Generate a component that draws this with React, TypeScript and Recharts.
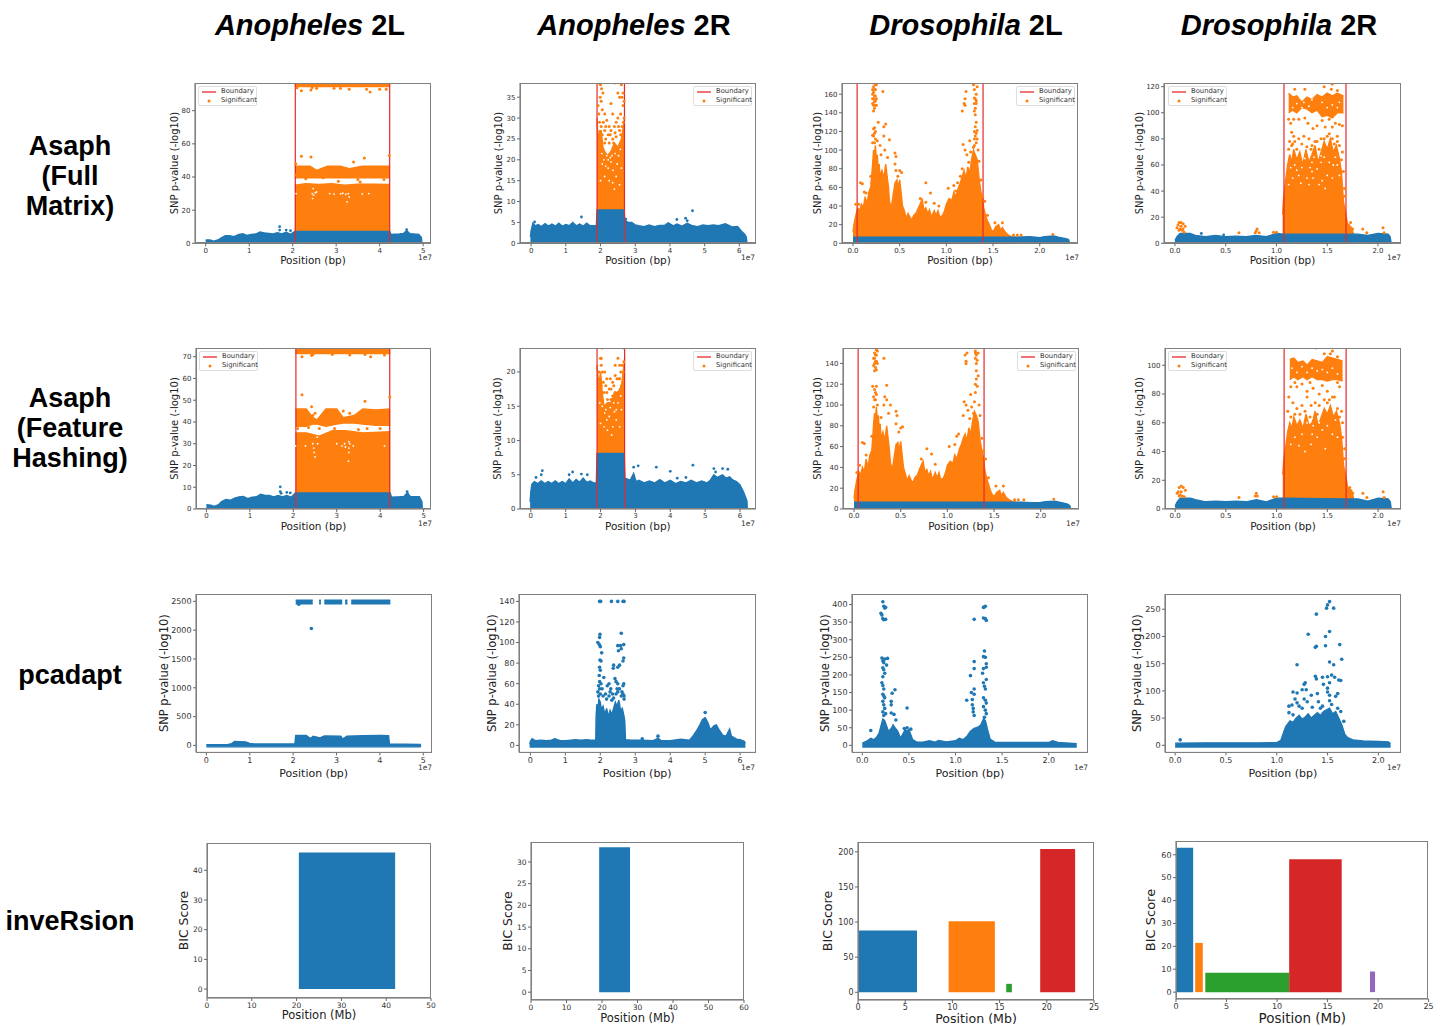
import React from 'react';
import { ComposedChart, XAxis, YAxis, Area, Scatter, ReferenceLine, ReferenceArea, Label } from 'recharts';

type P = [number, number];
const BLUE = '#1f77b4', ORANGE = '#ff7f0e', RED = '#e8272a', GREEN = '#2ca02c', CRIM = '#d62728', PURPLE = '#9467bd';

// ---------- Asaph (Full Matrix) ----------
const fullA2LBlue: P[] = [[0,2],[0.1,2],[0.18,1.3],[0.28,2],[0.35,3.2],[0.45,4.6],[0.55,4.6],[0.65,4],[0.75,5.2],[0.85,5.8],[0.95,4.8],[1.05,5.4],[1.15,5.6],[1.25,6.8],[1.35,6.3],[1.45,6],[1.55,5.6],[1.65,6.4],[1.75,5.6],[1.85,6.6],[1.95,5.4],[2.05,7.2],[4.23,7.2],[4.26,5.4],[4.45,5.6],[4.55,6],[4.62,7.6],[4.7,5.8],[4.9,5.4],[4.96,3.5],[4.97,0]];
const fullA2LOr1: P[] = [[2.05,35],[2.3,36],[2.6,35.5],[2.9,36],[3.2,35],[3.5,35.7],[3.9,35.6],[4.23,35.5]];
const fullA2LOr2: P[] = [[2.05,46.5],[2.4,46.5],[2.55,44],[2.8,46.5],[3.1,46.5],[3.3,45],[3.6,46.5],[4.23,46.5]];
const fullA2LOr3: P[] = [[2.05,97],[4.23,97]];
const fullA2LDots: P[] = [[2.2,52.5],[2.42,52],[3.4,49],[3.65,51.5],[4.22,53],[2.07,48],[2.2,92],[2.42,92.5],[3.78,91.3],[2.45,94],[2.55,93.5],[2.95,93.5],[3.3,93],[3.7,93],[4.0,93],[4.15,93],[3.1,93.6],[2.1,93.8],[2.08,41],[2.3,39],[2.7,39.5],[3.5,38.5],[4.1,38.5],[3.05,37.5],[3.55,37]];
const fullA2LHigh: P[] = [[1.7,10],[1.7,8],[1.85,8],[1.95,7.6],[4.62,8.2]];
const fullA2LGaps: P[] = [[2.08,30],[2.45,30],[2.48,29],[2.52,30.5],[2.55,31],[2.47,33],[2.85,30],[2.95,29.7],[3.1,29.8],[3.15,30.2],[3.22,29.5],[3.28,30],[3.3,28],[3.6,29.8],[3.75,30],[3.25,25],[2.46,27]];

const fullA2RBlue: P[] = [[-0.02,1.5],[0,3],[0.05,4.8],[0.12,4.2],[0.2,4.5],[0.3,4],[0.4,4.7],[0.5,4.1],[0.6,4.6],[0.7,4.1],[0.8,4.8],[0.9,4.1],[1,4.5],[1.1,4.2],[1.2,5],[1.3,4.2],[1.4,4.6],[1.5,4.1],[1.6,4.8],[1.7,4.2],[1.8,4.2],[1.88,4.2],[1.9,8],[2.68,8],[2.7,5.5],[2.8,5],[2.9,5],[3,4.4],[3.1,4.2],[3.25,4],[3.4,4.4],[3.55,4],[3.7,4.3],[3.85,4.3],[3.95,4.9],[4.1,4.2],[4.2,4.6],[4.35,4.1],[4.5,4.8],[4.65,4.2],[4.8,4],[4.95,4.4],[5.1,4.2],[5.25,4.4],[5.4,4.2],[5.6,4.7],[5.8,3.9],[5.95,4],[6.05,3],[6.15,2.2],[6.2,1.5],[6.22,0]];
const fullA2ROr: P[] = [[1.9,30],[1.93,24],[1.97,27],[2.02,27],[2.07,23],[2.12,22],[2.2,21],[2.3,22],[2.4,24],[2.5,23],[2.6,25],[2.66,28],[2.69,30]];
const fullA2RDots: P[] = [[2.0,38],[2.03,37],[2.07,36],[2.02,34],[1.93,33],[2.05,32],[2.12,31],[2.18,29.5],[1.97,29],[2.02,28],[2.3,33.5],[2.35,31],[2.42,38.4],[2.5,36],[2.55,35],[2.62,35],[2.65,33],[2.58,31],[2.5,30],[2.45,29],[2.68,30],[2.62,28],[2.55,27],[2.3,27],[2.22,26],[2.12,27],[2.05,26],[2.15,25],[2.25,24],[2.38,24],[2.45,25.5],[2.58,26],[2.42,26.5],[2.35,25],[2.12,24],[2.6,38],[1.98,38.3],[2.28,26],[2.66,29],[2.08,29],[2.15,28],[2.25,28],[2.4,28],[2.52,28],[2.65,36],[2.68,34],[1.99,35],[1.95,31]];
const fullA2RHigh: P[] = [[1.45,6.3],[4.65,7.8],[4.2,5.7],[4.45,6],[4.5,5.4],[2.73,5.8],[0.1,5.1]];
const fullA2RGaps: P[] = [[2.12,16],[2.25,15],[2.35,14.5],[2.45,16],[2.22,18],[2.4,13],[2.0,15],[2.55,14],[2.1,20],[2.3,19.5],[2.52,21],[2.15,18.5],[2.28,20.5],[2.18,21],[2.05,19],[2.36,17.5],[2.48,19],[2.6,18],[2.42,21.5],[2.22,20],[2.33,21],[2.57,22.5],[2.04,21.5]];

const fullD2LOr: P[] = [[0,12],[0.01,20],[0.03,30],[0.05,38],[0.07,35],[0.09,42],[0.11,38],[0.13,50],[0.15,42],[0.17,55],[0.19,60],[0.2,72],[0.21,85],[0.22,100],[0.23,95],[0.24,105],[0.25,90],[0.26,95],[0.27,80],[0.28,85],[0.29,72],[0.31,78],[0.33,70],[0.35,85],[0.37,68],[0.38,60],[0.39,45],[0.41,38],[0.43,52],[0.45,65],[0.47,68],[0.48,60],[0.5,68],[0.52,50],[0.53,40],[0.55,35],[0.57,27],[0.59,32],[0.61,28],[0.63,25],[0.65,30],[0.68,33],[0.7,38],[0.72,42],[0.74,48],[0.76,35],[0.78,38],[0.8,32],[0.82,36],[0.84,28],[0.87,35],[0.89,30],[0.91,35],[0.93,28],[0.96,30],[0.98,35],[1,42],[1.03,48],[1.06,46],[1.08,55],[1.1,50],[1.13,60],[1.15,65],[1.17,72],[1.19,78],[1.21,70],[1.23,82],[1.25,75],[1.27,90],[1.29,100],[1.31,95],[1.33,90],[1.35,70],[1.37,55],[1.39,48],[1.4,38],[1.42,30],[1.44,24],[1.46,20],[1.48,15],[1.5,12],[1.53,18],[1.56,20],[1.58,14],[1.6,17],[1.63,12],[1.66,9],[1.7,7],[1.75,6]];
const fullD2LBlue: P[] = [[0,6.5],[1.7,6.5],[1.8,6.8],[1.9,7],[2,6],[2.05,7],[2.15,7.8],[2.2,6.5],[2.28,5],[2.31,4],[2.32,0]];
const fullD2LDots: P[] = [[0.21,172],[0.22,168],[0.23,172],[0.24,165],[0.21,160],[0.22,155],[0.23,152],[0.24,148],[0.25,155],[0.21,150],[0.23,145],[0.22,142],[0.24,158],[0.25,170],[0.22,175],[0.32,163],[0.22,162],[0.23,165],[0.24,170],[0.21,165],[0.22,148],[0.23,158],[0.24,153],[0.25,148],[0.21,155],[0.27,130],[0.35,128],[0.33,125],[0.22,123],[0.23,118],[0.24,112],[0.21,108],[0.22,115],[0.23,108],[0.23,124],[0.24,120],[0.21,116],[0.26,110],[0.29,105],[0.33,115],[0.39,111],[0.3,95],[0.34,100],[0.37,92],[0.45,97],[0.46,93],[0.45,85],[0.46,78],[0.5,78],[0.52,76],[0.48,72],[0.08,65],[0.1,64],[0.12,55],[0.14,54],[0.19,72],[0.2,65],[0.03,42],[0.06,42],[0.78,65],[0.83,54],[0.78,44],[0.87,43],[0.92,40],[0.72,48],[1.02,59],[1.08,62],[1.1,56],[1.12,65],[1.15,72],[1.17,80],[1.18,106],[1.2,100],[1.22,95],[1.2,155],[1.19,150],[1.21,163],[1.2,148],[1.17,142],[1.24,87],[1.25,110],[1.26,98],[1.28,90],[1.29,103],[1.3,112],[1.3,120],[1.31,125],[1.32,118],[1.3,142],[1.31,138],[1.3,150],[1.31,155],[1.32,160],[1.3,165],[1.32,150],[1.31,172],[1.32,174],[1.33,168],[1.29,170],[1.32,130],[1.33,121],[1.31,145],[1.32,153],[1.3,156],[1.31,115],[1.3,105],[1.32,108],[1.33,112],[1.34,100],[1.35,88],[1.37,68],[1.39,50],[1.41,45],[1.44,30],[1.52,22],[1.6,22],[1.72,9],[1.76,9],[1.8,9]];
const fullD2LHigh: P[] = [[2.14,9.5]];

const fullD2RBlue: P[] = [[0,2],[0.02,5],[0.05,7.5],[0.15,7.5],[0.2,6],[0.3,5],[0.4,6],[0.5,5],[0.6,5.5],[0.7,5],[0.8,6],[0.9,5],[1,7.5],[1.07,7],[1.685,7],[1.8,7],[1.9,6],[2,7.5],[2.1,7],[2.12,5],[2.13,0]];
const fullD2ROr: P[] = [[1.06,22],[1.07,35],[1.09,48],[1.11,60],[1.13,68],[1.15,62],[1.17,72],[1.2,64],[1.23,70],[1.26,60],[1.29,72],[1.32,62],[1.35,68],[1.38,75],[1.41,62],[1.44,70],[1.47,78],[1.5,72],[1.53,80],[1.56,70],[1.59,75],[1.62,65],[1.64,55],[1.66,32],[1.68,24],[1.7,15],[1.74,12],[1.76,7]];
const fullD2ROrTop: P[] = [[1.12,115],[1.16,112],[1.2,113],[1.25,108],[1.3,112],[1.35,110],[1.4,114],[1.45,112],[1.5,115],[1.55,113],[1.6,115],[1.66,113]];
const fullD2RTopLow: P[] = [[1.12,100],[1.16,102],[1.2,100],[1.25,104],[1.3,103],[1.35,100],[1.4,102],[1.45,97],[1.5,98],[1.55,96],[1.6,100],[1.66,100]];
const fullD2RDots: P[] = [[0.02,12],[0.03,14],[0.04,16],[0.06,16],[0.08,15],[0.1,13],[0.05,11],[0.07,10],[0.09,8.5],[0.06,13],[0.04,10],[0.08,11],[0.63,8],[0.79,8],[0.8,9.5],[0.81,11],[0.83,8],[0.97,8.5],[1.0,8.5],[1.71,14],[1.73,16],[1.75,11],[1.85,11],[1.89,8],[2.05,12],[2.06,8],[1.18,118],[1.28,118],[1.39,123],[1.47,120],[1.55,122],[1.54,118],[1.6,117],[1.12,95],[1.14,92],[1.17,95],[1.22,95],[1.28,96],[1.31,92],[1.36,88],[1.4,90],[1.45,94],[1.48,89],[1.52,95],[1.55,89],[1.58,92],[1.62,91],[1.65,90],[1.15,85],[1.17,82],[1.13,78],[1.15,75],[1.18,78],[1.22,80],[1.27,82],[1.32,80],[1.35,75],[1.4,78],[1.44,80],[1.5,82],[1.55,80],[1.6,82],[1.62,75],[1.65,70],[1.12,72],[1.16,76],[1.2,72],[1.25,76],[1.3,74],[1.34,72],[1.38,78],[1.42,72],[1.47,80],[1.52,84],[1.57,76],[1.6,78],[1.64,64],[1.66,55],[1.67,42],[1.67,36]];
const fullD2RHigh: P[] = [[0.26,7.5],[0.48,6.5]];
const fullD2RGaps: P[] = [[1.18,60],[1.35,62],[1.35,55],[1.36,50],[1.42,45],[1.22,52],[1.3,50],[1.5,52],[1.45,48],[1.25,104],[1.27,108],[1.35,110],[1.45,108],[1.55,106],[1.2,107],[1.62,108],[1.14,58],[1.16,50],[1.2,56],[1.25,58],[1.28,65],[1.33,58],[1.37,66],[1.4,57],[1.44,62],[1.47,66],[1.52,62],[1.56,60],[1.6,60],[1.62,52],[1.12,45],[1.24,46],[1.32,45],[1.48,42],[1.55,50],[1.58,66],[1.31,70],[1.44,67],[1.16,104],[1.32,105],[1.5,104],[1.6,104]];

// ---------- Asaph (Feature Hashing) ----------
const hashA2LBlue: P[] = [[0,2],[0.1,1.8],[0.18,1.2],[0.28,2],[0.35,3.4],[0.45,4.4],[0.55,4],[0.65,5],[0.75,5.6],[0.85,5.8],[0.95,4.8],[1.05,5.4],[1.15,5.6],[1.25,6.8],[1.35,6.2],[1.45,6.2],[1.55,5.6],[1.65,6.2],[1.75,5.6],[1.85,6.2],[1.95,5.4],[2.05,7.4],[4.23,7.4],[4.26,5.4],[4.45,5.6],[4.55,5.8],[4.62,7.4],[4.7,5.6],[4.9,5.6],[4.96,3.5],[4.97,0]];
const hashA2LOr1: P[] = [[2.05,35],[2.3,35],[2.6,33.5],[2.9,36],[3.2,36],[3.6,35],[4.23,35.5]];
const hashA2LOr2: P[] = [[2.05,46],[2.3,46],[2.45,42],[2.55,41],[2.75,46],[3.0,46],[3.15,42],[3.4,43],[3.6,46],[3.9,45.5],[4.23,46]];
const hashA2LOr2Low: P[] = [[2.05,38],[2.3,38],[2.45,39],[2.55,39],[2.75,38],[3.0,39],[3.15,39.5],[3.4,39.5],[3.6,39],[3.9,38.5],[4.23,38.5]];
const hashA2LOr3: P[] = [[2.05,74],[4.23,74]];
const hashA2LOr3Low: P[] = [[2.05,71.5],[4.23,71.5]];
const hashA2LDots: P[] = [[2.2,52.5],[3.65,49.5],[2.42,47],[4.22,51.5],[2.2,70],[2.42,70.5],[2.45,71],[3.78,70],[3.65,71],[4.1,70.8],[2.9,71],[3.3,70.8],[2.95,37],[2.6,37],[2.35,37.5],[3.5,36.5],[3.7,37],[4.0,37],[2.1,37],[2.45,43],[2.5,44],[3.2,41],[3.3,44],[3.15,45]];
const hashA2LHigh: P[] = [[1.7,10.2],[1.7,8],[1.72,7.2],[1.85,7.6],[1.93,7.4],[4.62,8],[4.63,7]];
const hashA2LGaps: P[] = [[2.05,29],[2.45,30],[2.47,28],[2.48,26],[2.56,30],[2.55,33],[3.0,30],[3.12,29],[3.18,30],[3.2,28.5],[3.28,31],[3.28,28],[3.3,30],[3.28,26],[3.38,29],[2.28,29],[4.1,29],[3.27,22],[2.5,24]];

const hashA2RBlue: P[] = [[-0.02,1],[0,2.5],[0.03,3.6],[0.1,4],[0.2,3.7],[0.3,4.1],[0.4,3.7],[0.5,4],[0.6,3.7],[0.7,4.1],[0.8,3.7],[0.9,4],[1,3.7],[1.1,4.4],[1.2,3.8],[1.3,4.3],[1.4,3.9],[1.5,4.5],[1.6,3.9],[1.7,4.1],[1.8,3.8],[1.88,3.8],[1.9,8.1],[2.68,8.1],[2.7,4.5],[2.85,4.2],[2.95,5.2],[3.02,4],[3.1,4.2],[3.25,3.8],[3.4,4.1],[3.55,3.8],[3.7,4.3],[3.85,3.8],[4,4.2],[4.15,3.7],[4.3,4],[4.45,3.8],[4.6,4.2],[4.75,3.8],[4.9,4.1],[5.05,3.8],[5.15,4.2],[5.25,5],[5.35,4.6],[5.5,5],[5.6,4.5],[5.7,4.7],[5.8,4.2],[5.9,4],[6,3.5],[6.1,2.5],[6.2,1.2],[6.21,0]];
const hashA2ROr: P[] = [[1.9,21],[1.95,18],[2.0,20],[2.05,17],[2.1,15],[2.2,15.5],[2.3,15.5],[2.4,17],[2.5,17],[2.6,18],[2.65,20],[2.69,22]];
const hashA2RDots: P[] = [[2.0,22],[2.02,21],[2.05,20],[2.0,19],[1.96,20],[2.02,18],[2.08,18.5],[2.15,18],[2.18,17],[2.25,17.5],[2.3,16],[2.35,16.5],[2.42,21],[2.5,22],[2.55,21],[2.42,19.5],[2.52,19],[2.58,20],[2.62,21],[2.65,20],[2.67,21.5],[2.6,18],[2.5,17],[2.45,16.5],[2.1,17],[2.2,16],[2.3,17.5],[2.35,18.5],[2.42,17],[1.98,18],[2.04,23.5],[2.66,23.5],[2.12,20],[2.18,19],[2.28,19],[2.38,18],[2.47,19],[2.55,19],[2.02,22]];
const hashA2RHigh: P[] = [[0.33,5.6],[0.3,5],[0.15,4.6],[1.2,5.4],[1.1,5],[1.45,5.1],[1.62,5],[2.95,6.1],[3.08,6.3],[3.6,6.1],[4.0,5.5],[4.65,6.4],[5.25,5.9],[5.3,5.4],[5.5,5.9],[5.65,5.8],[4.2,4.5],[4.45,4.6]];
const hashA2RGaps: P[] = [[2.1,12],[2.2,11.5],[2.35,12],[2.45,13],[2.25,13.5],[2.0,12.5],[2.55,12],[2.12,14],[2.5,15.5],[2.32,10.8],[2.15,14.5],[2.4,14.2],[2.28,14.8],[2.05,15],[2.6,14.5],[2.38,15.5],[2.18,13],[1.98,15.5],[2.58,16.5],[2.45,14.5]];

const hashD2LOr: P[] = [[0,10],[0.01,18],[0.03,28],[0.05,36],[0.07,33],[0.09,40],[0.11,36],[0.13,48],[0.15,40],[0.17,52],[0.19,56],[0.2,68],[0.21,82],[0.22,92],[0.23,88],[0.24,98],[0.25,84],[0.26,90],[0.27,78],[0.28,82],[0.29,68],[0.31,74],[0.33,66],[0.35,80],[0.37,64],[0.38,56],[0.39,44],[0.41,38],[0.43,50],[0.45,62],[0.47,64],[0.48,56],[0.5,65],[0.52,48],[0.53,40],[0.55,34],[0.57,27],[0.59,32],[0.61,28],[0.63,25],[0.65,30],[0.68,33],[0.7,38],[0.72,42],[0.74,46],[0.76,35],[0.78,38],[0.8,32],[0.82,36],[0.84,28],[0.87,35],[0.89,30],[0.91,35],[0.93,28],[0.96,30],[0.98,35],[1,42],[1.03,46],[1.06,44],[1.08,52],[1.1,48],[1.13,58],[1.15,62],[1.17,68],[1.19,72],[1.21,66],[1.23,78],[1.25,72],[1.27,84],[1.29,94],[1.31,90],[1.33,84],[1.35,66],[1.37,56],[1.39,48],[1.4,38],[1.42,30],[1.44,24],[1.46,18],[1.48,14],[1.5,12],[1.53,16],[1.56,18],[1.58,13],[1.6,16],[1.63,11],[1.66,9],[1.7,7],[1.75,6]];
const hashD2LBlue: P[] = [[0,6.5],[1.7,6.5],[1.8,6.5],[1.9,6],[2,6.3],[2.05,7],[2.15,7.5],[2.2,6.5],[2.28,5],[2.31,3.5],[2.32,0]];
const hashD2LDots: P[] = [[0.21,155],[0.22,150],[0.23,155],[0.24,148],[0.25,152],[0.21,145],[0.22,140],[0.23,136],[0.24,142],[0.22,133],[0.24,134],[0.32,145],[0.23,148],[0.24,153],[0.22,145],[0.23,142],[0.21,138],[0.25,140],[0.2,118],[0.22,115],[0.24,118],[0.21,108],[0.23,105],[0.25,100],[0.24,110],[0.21,98],[0.23,112],[0.22,105],[0.35,119],[0.33,108],[0.35,105],[0.32,100],[0.39,100],[0.37,92],[0.29,88],[0.45,94],[0.46,90],[0.45,82],[0.5,78],[0.52,79],[0.48,74],[0.09,64],[0.11,63],[0.13,52],[0.19,70],[0.03,35],[0.06,42],[0.78,58],[0.83,53],[0.87,43],[0.72,48],[1.02,60],[1.08,62],[1.1,70],[1.12,72],[1.15,60],[1.18,103],[1.2,100],[1.22,95],[1.2,142],[1.19,148],[1.21,150],[1.2,140],[1.17,90],[1.24,87],[1.25,110],[1.26,98],[1.28,92],[1.29,103],[1.3,112],[1.3,120],[1.31,125],[1.32,118],[1.3,145],[1.31,140],[1.3,150],[1.31,133],[1.32,155],[1.3,152],[1.32,143],[1.31,148],[1.33,150],[1.33,128],[1.34,100],[1.35,90],[1.37,68],[1.39,56],[1.41,48],[1.44,30],[1.52,22],[1.6,22],[1.72,9],[1.76,9],[1.82,9]];
const hashD2LHigh: P[] = [[2.14,9.5]];

const hashD2RBlue: P[] = [[0,2],[0.02,5],[0.05,7.5],[0.15,7.5],[0.2,6.5],[0.3,5],[0.4,5.5],[0.5,5],[0.6,5.5],[0.7,5],[0.8,6.5],[0.9,5],[1,7.5],[1.07,7.5],[1.685,7],[1.8,7],[1.9,5.5],[2,7.5],[2.1,7],[2.12,5],[2.13,0]];
const hashD2ROr: P[] = [[1.06,24],[1.07,34],[1.09,44],[1.11,54],[1.13,60],[1.15,56],[1.17,64],[1.2,58],[1.23,62],[1.26,56],[1.29,66],[1.32,58],[1.35,60],[1.38,68],[1.41,58],[1.44,64],[1.47,70],[1.5,66],[1.53,72],[1.56,64],[1.59,68],[1.62,60],[1.64,50],[1.66,30],[1.68,24],[1.7,15],[1.74,13],[1.76,7]];
const hashD2RTop: P[] = [[1.13,104],[1.17,105],[1.21,102],[1.26,103],[1.3,100],[1.35,104],[1.4,103],[1.45,102],[1.5,106],[1.55,105],[1.6,104],[1.65,103]];
const hashD2RTopLow: P[] = [[1.13,90],[1.17,92],[1.21,90],[1.26,92],[1.3,90],[1.35,92],[1.4,90],[1.45,90],[1.5,89],[1.55,90],[1.6,90],[1.65,89]];
const hashD2RDots: P[] = [[0.02,11],[0.03,12],[0.04,15],[0.06,16],[0.08,15],[0.1,13],[0.05,10],[0.07,9],[0.09,8.5],[0.06,12],[0.04,9],[0.63,8],[0.79,9],[0.8,11],[0.81,9],[0.97,8.5],[1.0,8.5],[1.72,15],[1.75,11],[1.85,11],[1.89,8],[2.05,12],[2.06,8],[1.39,112],[1.47,108],[1.55,110],[1.53,108],[1.6,106],[1.14,85],[1.2,85],[1.3,82],[1.36,84],[1.42,80],[1.5,82],[1.55,78],[1.62,85],[1.12,78],[1.16,74],[1.2,70],[1.25,72],[1.3,78],[1.34,72],[1.38,74],[1.42,72],[1.47,76],[1.52,76],[1.57,78],[1.6,70],[1.64,68],[1.11,68],[1.14,64],[1.18,66],[1.23,66],[1.28,68],[1.33,64],[1.4,66],[1.5,74],[1.62,64],[1.65,60],[1.65,50],[1.67,42],[1.67,35],[1.18,88],[1.25,87],[1.33,88],[1.45,86],[1.6,88]];
const hashD2RGaps: P[] = [[1.15,98],[1.2,95],[1.25,99],[1.3,95],[1.35,98],[1.4,96],[1.45,97],[1.5,95],[1.55,98],[1.6,94],[1.18,50],[1.25,52],[1.3,60],[1.35,52],[1.4,50],[1.45,55],[1.5,58],[1.55,52],[1.6,50],[1.14,45],[1.22,44],[1.36,58],[1.34,45],[1.42,60],[1.28,40],[1.58,62],[1.48,42],[1.35,63]];

// ---------- pcadapt ----------
const pcaA2LBand: P[] = [[0,14],[0.5,16],[0.58,30],[0.65,68],[0.9,62],[1,35],[1.1,25],[2.04,24],[2.06,175],[2.3,175],[2.4,120],[2.46,160],[2.62,130],[2.72,165],[3.1,160],[3.14,110],[3.24,160],[3.6,170],[4.0,175],[4.2,170],[4.22,25],[4.93,18],[4.94,-25]];
const pcaA2LTop1: P[] = [[2.06,2520],[2.45,2520]];
const pcaA2LTop2: P[] = [[2.6,2520],[2.64,2520]];
const pcaA2LTop3: P[] = [[2.72,2520],[3.13,2520]];
const pcaA2LTop4: P[] = [[3.2,2520],[3.25,2520]];
const pcaA2LTop5: P[] = [[3.34,2520],[4.24,2520]];
const pcaA2LDots: P[] = [[2.42,2030],[2.13,2450]];

const pcaA2RBand: P[] = [[-0.02,1],[0,4],[0.05,6.5],[0.15,4.5],[0.3,5],[0.45,4.5],[0.6,5],[0.7,6.5],[0.85,4.5],[1,4.5],[1.15,5],[1.3,5.5],[1.45,5],[1.6,5.5],[1.75,5],[1.87,5],[1.88,28],[1.9,40],[1.93,35],[1.96,45],[2,42],[2.03,35],[2.08,38],[2.13,30],[2.18,36],[2.23,28],[2.28,34],[2.33,30],[2.38,36],[2.43,42],[2.48,38],[2.53,44],[2.58,34],[2.63,36],[2.68,28],[2.7,24],[2.72,5.5],[2.9,5],[3.2,5],[3.5,4.5],[3.65,7],[3.75,4.5],[4,4.5],[4.3,6],[4.55,5],[4.65,9],[4.75,14],[4.85,20],[4.92,25],[5,27],[5.08,22],[5.15,15],[5.25,19],[5.32,20],[5.4,15],[5.5,10],[5.6,9],[5.7,16],[5.75,9],[5.9,6],[6,5.5],[6.12,4],[6.15,2]];
const pcaA2RDots: P[] = [[1.98,140],[2.01,140],[2.32,140],[2.5,140],[2.65,140],[2.68,140],[1.99,108],[1.98,105],[1.93,100],[1.97,98],[2,96],[2.04,90],[2.6,109],[2.58,97],[2.67,98],[2.5,97],[2.52,92],[2.6,94],[2.67,85],[2.65,82],[2.38,78],[2.37,75],[2.55,78],[2.5,76],[1.99,83],[2.02,82],[1.98,76],[2,73],[1.97,68],[2.1,66],[2.2,58],[2.25,60],[2.3,55],[2.42,65],[2.45,62],[2.5,60],[2.67,60],[2.65,58],[2.68,48],[2.62,52],[2.5,52],[2.15,50],[2.25,48],[2.35,50],[1.95,58],[1.98,55],[2,50],[1.95,48],[1.93,52],[1.98,62],[2.02,60],[2.05,55],[2.08,48],[2.18,45],[2.28,52],[2.33,44],[2.38,46],[2.45,50],[2.48,55],[2.55,55],[2.6,48],[2.65,50],[2.68,45],[5,32],[3.65,9],[3.2,6.5]];

const pcaD2LBand: P[] = [[0,6],[0.03,10],[0.06,14],[0.09,20],[0.12,16],[0.15,22],[0.18,35],[0.2,55],[0.22,75],[0.24,70],[0.26,55],[0.28,40],[0.31,48],[0.33,58],[0.35,50],[0.38,40],[0.41,20],[0.44,35],[0.46,45],[0.48,40],[0.5,45],[0.52,30],[0.54,16],[0.58,10],[0.65,9],[0.72,13],[0.78,9],[0.82,14],[0.9,10],[1,13],[1.04,20],[1.08,16],[1.12,25],[1.16,40],[1.2,48],[1.24,52],[1.27,58],[1.3,75],[1.32,70],[1.34,48],[1.37,18],[1.42,9],[1.6,8],[2,8],[2.04,13],[2.1,8],[2.3,5]];
const pcaD2LDots: P[] = [[0.22,408],[0.23,395],[0.24,390],[0.25,392],[0.2,375],[0.21,370],[0.22,360],[0.23,357],[0.25,358],[0.21,248],[0.22,240],[0.23,235],[0.24,245],[0.27,247],[0.26,228],[0.22,220],[0.23,215],[0.24,205],[0.22,195],[0.21,178],[0.22,170],[0.23,160],[0.22,145],[0.23,140],[0.24,135],[0.22,125],[0.23,115],[0.24,105],[0.22,95],[0.23,85],[0.25,90],[0.32,148],[0.31,125],[0.31,115],[0.35,158],[0.31,92],[0.34,88],[0.36,72],[0.48,106],[0.09,42],[0.45,48],[0.48,50],[0.52,46],[1.2,358],[1.3,392],[1.32,395],[1.31,393],[1.3,362],[1.32,360],[1.33,355],[1.31,268],[1.3,252],[1.32,250],[1.2,238],[1.33,232],[1.33,222],[1.3,218],[1.2,218],[1.16,198],[1.29,205],[1.33,187],[1.3,178],[1.31,168],[1.32,160],[1.2,160],[1.17,150],[1.2,145],[1.12,128],[1.18,130],[1.3,135],[1.32,128],[1.33,120],[1.3,110],[1.18,115],[1.19,105],[1.19,95],[1.2,85],[1.32,100],[1.33,90],[1.31,80]];

const pcaD2RBand: P[] = [[0,4],[0.3,4.5],[0.5,4.5],[0.8,4.5],[1,5],[1.04,9],[1.07,25],[1.09,35],[1.11,40],[1.13,45],[1.16,42],[1.19,50],[1.22,55],[1.25,48],[1.28,52],[1.31,58],[1.34,50],[1.37,55],[1.4,60],[1.43,55],[1.46,62],[1.49,65],[1.52,68],[1.55,58],[1.58,62],[1.61,50],[1.64,38],[1.67,20],[1.7,14],[1.75,10],[1.85,8],[2,7],[2.1,6],[2.12,3]];
const pcaD2RDots: P[] = [[0.05,10],[1.52,264],[1.5,258],[1.49,252],[1.56,252],[1.39,241],[1.31,204],[1.48,200],[1.52,209],[1.39,182],[1.38,180],[1.48,183],[1.62,185],[1.64,158],[1.2,148],[1.52,153],[1.56,148],[1.38,127],[1.39,122],[1.45,125],[1.5,126],[1.54,129],[1.57,125],[1.61,120],[1.63,119],[1.46,112],[1.52,115],[1.5,105],[1.25,102],[1.28,115],[1.27,112],[1.29,102],[1.16,98],[1.2,96],[1.34,92],[1.4,95],[1.5,98],[1.52,92],[1.6,95],[1.58,90],[1.18,85],[1.2,78],[1.27,85],[1.3,80],[1.41,80],[1.45,72],[1.12,72],[1.15,74],[1.22,72],[1.25,68],[1.35,70],[1.43,68],[1.52,82],[1.54,75],[1.6,68],[1.63,62],[1.12,60],[1.16,56],[1.66,44]];

// ---------- inveRsion ----------
type R = [number, number, number, string];
const invA2L: R[] = [[20.5, 42, 46, BLUE]];
const invA2R: R[] = [[19.2, 27.9, 33.4, BLUE]];
const invD2L: R[] = [[0, 6.25, 88, BLUE], [9.6, 14.5, 101, ORANGE], [15.7, 16.3, 12, GREEN], [19.3, 23, 204, CRIM]];
const invD2R: R[] = [[0, 1.7, 63, BLUE], [1.9, 2.65, 21.5, ORANGE], [2.9, 11.2, 8.5, GREEN], [11.2, 16.4, 58, CRIM], [19.2, 19.7, 9, PURPLE]];

const ticks5 = [0, 1, 2, 3, 4, 5];
const ticks6 = [0, 1, 2, 3, 4, 5, 6];
const ticksD = [0, 0.5, 1, 1.5, 2];

type Cfg = {
  box: number[]; xd: number[]; yd: number[]; xt: number[]; yt: number[]; dec?: boolean;
  bands?: { fill: string; lo: number; pts: P[]; lows?: P[] }[];
  dots?: { fill: string; r: number; pts: P[] }[];
  bounds?: number[]; legend?: number; rects?: R[];
  xl: string; yl: string; ylx: number; xly: number; fx: number; fy: number; ft: number; e7?: number[];
};

const sig = (a: P[], gaps: P[], high: P[], highFill = BLUE) => [
  { fill: ORANGE, r: 1.5, pts: a }, { fill: '#ffffff', r: 0.9, pts: gaps }, { fill: highFill, r: 1.4, pts: high },
];

const yTicks = (n: number, s: number) => Array.from({ length: n }, (_, i) => i * s);
const PB = 'Position (bp)', PM = 'Position (Mb)', SP = 'SNP p-value (-log10)', BIC = 'BIC Score';
const r1 = { xl: PB, yl: SP, xly: 260, fx: 10.5, fy: 10, ft: 7 };
const r2 = { xl: PB, yl: SP, xly: 526, fx: 10.5, fy: 10, ft: 7 };
const r3 = { xl: PB, yl: SP, xly: 773, fx: 11, fy: 11.5, ft: 8 };

const panels: Cfg[] = [
  { ...r1, box: [195, 83, 431, 243.3], xd: [-0.246, 5.18], yd: [0, 96.7], xt: ticks5, yt: yTicks(5, 20), ylx: 174, bounds: [2.06, 4.23], legend: 198, e7: [425, 258],
    bands: [{ fill: ORANGE, lo: 0, pts: fullA2LOr1 }, { fill: ORANGE, lo: 39.5, pts: fullA2LOr2 }, { fill: ORANGE, lo: 94.5, pts: fullA2LOr3 }, { fill: BLUE, lo: 0, pts: fullA2LBlue }],
    dots: sig(fullA2LDots, fullA2LGaps, fullA2LHigh) },
  { ...r1, box: [519.5, 83, 755.5, 243.3], xd: [-0.32, 6.48], yd: [0, 38.4], xt: ticks6, yt: yTicks(8, 5), ylx: 498, bounds: [1.9, 2.69], legend: 693, e7: [748, 258],
    bands: [{ fill: ORANGE, lo: 0, pts: fullA2ROr }, { fill: BLUE, lo: 0, pts: fullA2RBlue }],
    dots: sig(fullA2RDots, fullA2RGaps, fullA2RHigh) },
  { ...r1, box: [842, 83, 1078, 243.3], xd: [-0.118, 2.41], yd: [0, 172], xt: ticksD, dec: true, yt: yTicks(9, 20), ylx: 817, bounds: [0.044, 1.393], legend: 1016, e7: [1072, 258],
    bands: [{ fill: ORANGE, lo: 0, pts: fullD2LOr }, { fill: BLUE, lo: 0, pts: fullD2LBlue }],
    dots: sig(fullD2LDots, [], fullD2LHigh, ORANGE) },
  { ...r1, box: [1164, 83, 1401, 243.3], xd: [-0.108, 2.227], yd: [0, 122.8], xt: ticksD, dec: true, yt: yTicks(7, 20), ylx: 1139, bounds: [1.074, 1.685], legend: 1168, e7: [1394, 258],
    bands: [{ fill: ORANGE, lo: 0, pts: fullD2ROr }, { fill: ORANGE, lo: 0, pts: fullD2ROrTop, lows: fullD2RTopLow }, { fill: BLUE, lo: 0, pts: fullD2RBlue }],
    dots: sig(fullD2RDots, fullD2RGaps, fullD2RHigh) },

  { ...r2, box: [196, 348, 431, 509], xd: [-0.24, 5.17], yd: [0, 74], xt: ticks5, yt: yTicks(8, 10), ylx: 174, bounds: [2.06, 4.22], legend: 199, e7: [425, 524],
    bands: [{ fill: ORANGE, lo: 0, pts: hashA2LOr1 }, { fill: ORANGE, lo: 0, pts: hashA2LOr2, lows: hashA2LOr2Low }, { fill: ORANGE, lo: 0, pts: hashA2LOr3, lows: hashA2LOr3Low }, { fill: BLUE, lo: 0, pts: hashA2LBlue }],
    dots: sig(hashA2LDots, hashA2LGaps, hashA2LHigh) },
  { ...r2, box: [520, 348, 755.7, 509], xd: [-0.31, 6.45], yd: [0, 23.5], xt: ticks6, yt: yTicks(5, 5), ylx: 497, bounds: [1.9, 2.69], legend: 693, e7: [748, 524],
    bands: [{ fill: ORANGE, lo: 0, pts: hashA2ROr }, { fill: BLUE, lo: 0, pts: hashA2RBlue }],
    dots: sig(hashA2RDots, hashA2RGaps, hashA2RHigh) },
  { ...r2, box: [843, 348, 1079, 509], xd: [-0.118, 2.41], yd: [0, 154.8], xt: ticksD, dec: true, yt: yTicks(8, 20), ylx: 817, bounds: [0.044, 1.393], legend: 1017, e7: [1073, 524],
    bands: [{ fill: ORANGE, lo: 0, pts: hashD2LOr }, { fill: BLUE, lo: 0, pts: hashD2LBlue }],
    dots: sig(hashD2LDots, [], hashD2LHigh, ORANGE) },
  { ...r2, box: [1165, 348, 1401, 509], xd: [-0.1, 2.226], yd: [0, 112], xt: ticksD, dec: true, yt: yTicks(6, 20), ylx: 1139, bounds: [1.074, 1.685], legend: 1168, e7: [1394, 524],
    bands: [{ fill: ORANGE, lo: 0, pts: hashD2ROr }, { fill: ORANGE, lo: 0, pts: hashD2RTop, lows: hashD2RTopLow }, { fill: BLUE, lo: 0, pts: hashD2RBlue }],
    dots: sig(hashD2RDots, hashD2RGaps, []) },

  { ...r3, box: [196, 594.3, 431.5, 752.7], xd: [-0.24, 5.19], yd: [-121, 2628], xt: ticks5, yt: yTicks(6, 500), ylx: 164, e7: [425, 768],
    bands: [{ fill: BLUE, lo: -25, pts: pcaA2LBand }, { fill: BLUE, lo: 2460, pts: pcaA2LTop1 }, { fill: BLUE, lo: 2460, pts: pcaA2LTop2 }, { fill: BLUE, lo: 2460, pts: pcaA2LTop3 }, { fill: BLUE, lo: 2460, pts: pcaA2LTop4 }, { fill: BLUE, lo: 2460, pts: pcaA2LTop5 }],
    dots: [{ fill: BLUE, r: 1.8, pts: pcaA2LDots }] },
  { ...r3, box: [519, 594.3, 755.5, 752.7], xd: [-0.326, 6.44], yd: [-6.8, 147.2], xt: ticks6, yt: yTicks(8, 20), ylx: 492, e7: [748, 768],
    bands: [{ fill: BLUE, lo: -1.5, pts: pcaA2RBand }], dots: [{ fill: BLUE, r: 1.8, pts: pcaA2RDots }] },
  { ...r3, box: [852.3, 594.3, 1088, 752.7], xd: [-0.111, 2.418], yd: [-20, 430], xt: ticksD, dec: true, yt: yTicks(9, 50), ylx: 825, e7: [1081, 768],
    bands: [{ fill: BLUE, lo: -5, pts: pcaD2LBand }], dots: [{ fill: BLUE, r: 1.8, pts: pcaD2LDots }] },
  { ...r3, box: [1165, 594.3, 1400.7, 752.7], xd: [-0.1, 2.22], yd: [-13, 278], xt: ticksD, dec: true, yt: yTicks(6, 50), ylx: 1137, e7: [1394, 768],
    bands: [{ fill: BLUE, lo: -3, pts: pcaD2RBand }], dots: [{ fill: BLUE, r: 1.8, pts: pcaD2RDots }] },

  { box: [207, 843, 431, 998], xd: [0, 50], yd: [-3, 49.2], xt: yTicks(6, 10), yt: yTicks(5, 10), ylx: 184, xl: PM, yl: BIC, xly: 1015, fx: 11.5, fy: 12.4, ft: 7.5, rects: invA2L },
  { box: [531, 842, 744, 1000], xd: [0, 60], yd: [-1.8, 34.6], xt: yTicks(7, 10), yt: yTicks(7, 5), ylx: 508, xl: PM, yl: BIC, xly: 1018, fx: 11.5, fy: 12.4, ft: 7.5, rects: invA2R },
  { box: [858, 842, 1094, 1000], xd: [0, 25], yd: [-11, 214], xt: yTicks(6, 5), yt: yTicks(5, 50), ylx: 828, xl: PM, yl: BIC, xly: 1018, fx: 12.6, fy: 12.6, ft: 8, rects: invD2L },
  { box: [1175.7, 841, 1428.3, 999], xd: [0, 25], yd: [-3, 66], xt: yTicks(6, 5), yt: yTicks(7, 10), ylx: 1150, xl: PM, yl: BIC, xly: 1018, fx: 13.5, fy: 13, ft: 8, rects: invD2R },
];

const titles: [string, string, number][] = [['Anopheles', ' 2L', 310], ['Anopheles', ' 2R', 634], ['Drosophila', ' 2L', 966], ['Drosophila', ' 2R', 1279]];
const rowLabels: [string, number][] = [['Asaph', 146], ['(Full', 176], ['Matrix)', 206], ['Asaph', 398], ['(Feature', 428], ['Hashing)', 458], ['pcadapt', 675], ['inveRsion', 921]];

const W = 50, H = 36, TOP = 4, RIGHT = 8;
const DJ = '"DejaVu Sans", sans-serif';
const AX = '#666666';

function Panel({ c }: { c: Cfg }) {
  const [l, t, r, b] = c.box;
  const w = r - l, h = b - t;
  const tickStyle = { fontSize: c.ft, fill: '#333', fontFamily: DJ };
  return (
    <div style={{ position: 'absolute', left: l - W, top: t - TOP }}>
      <ComposedChart width={W + w + RIGHT} height={TOP + h + H} margin={{ top: TOP, right: RIGHT, left: 0, bottom: 0 }}>
        <XAxis dataKey="x" type="number" domain={c.xd} ticks={c.xt} interval={0} allowDataOverflow height={H}
          tickFormatter={(v: number) => (c.dec ? v.toFixed(1) : String(v))} tick={tickStyle} tickSize={3} tickMargin={1.5}
          stroke={AX} axisLine={{ stroke: AX }}>
          <Label value={c.xl} position="insideBottom" offset={H - (c.xly - b) - c.fx * 0.55 + 2}
            style={{ fontSize: c.fx, fill: '#222', fontFamily: DJ }} />
        </XAxis>
        <YAxis type="number" domain={c.yd} ticks={c.yt} interval={0} allowDataOverflow width={W}
          tick={tickStyle} tickSize={3} tickMargin={1.5} stroke={AX} axisLine={{ stroke: AX }}>
          <Label value={c.yl} angle={-90} position="insideLeft" offset={c.ylx - (l - W)}
            style={{ fontSize: c.fy, fill: '#222', fontFamily: DJ, textAnchor: 'middle' }} />
        </YAxis>
        {(c.rects || []).map(([x1, x2, y, f], i) => (
          <ReferenceArea key={i} x1={x1} x2={x2} y1={0} y2={y} fill={f} fillOpacity={1} stroke="none" />
        ))}
        {(c.bands || []).map((bd, i) => (
          <Area key={'b' + i} type="linear" isAnimationActive={false} dot={false} activeDot={false}
            data={bd.pts.map(([x, hi], j) => ({ x, v: [bd.lows ? bd.lows[j][1] : bd.lo, hi] }))}
            dataKey="v" fill={bd.fill} fillOpacity={1} stroke={bd.fill} strokeWidth={1.4} />
        ))}
        {(c.dots || []).filter(d => d.pts.length).map((d, i) => (
          <Scatter key={'d' + i} isAnimationActive={false} data={d.pts.map(([x, y]) => ({ x, y }))} dataKey="y"
            shape={(p: any) => <circle cx={p.cx} cy={p.cy} r={d.r} fill={d.fill} />} />
        ))}
        {(c.bounds || []).map((x, i) => (
          <ReferenceLine key={'r' + i} x={x} stroke={RED} strokeWidth={1.2} />
        ))}
      </ComposedChart>
      <div style={{ position: 'absolute', left: W, top: TOP, width: w, height: h, border: '1.5px solid #808080', boxSizing: 'border-box', pointerEvents: 'none' }} />
      {c.legend !== undefined && (
        <div style={{ position: 'absolute', left: c.legend - l + W, top: TOP + 2.5, width: 59, height: 20, background: 'rgba(255,255,255,0.85)', border: '1px solid #ddd', borderRadius: 2, boxSizing: 'border-box', fontFamily: DJ, fontSize: 6.8, color: '#333', lineHeight: '9px' }}>
          <svg width={20} height={18} style={{ position: 'absolute', left: 0, top: 0 }}>
            <line x1={3} x2={17} y1={5} y2={5} stroke={RED} strokeWidth={1.3} />
            <circle cx={10} cy={14} r={1.5} fill={ORANGE} />
          </svg>
          <div style={{ position: 'absolute', left: 22, top: 0.5, whiteSpace: 'nowrap' }}>Boundary</div>
          <div style={{ position: 'absolute', left: 22, top: 9.5, whiteSpace: 'nowrap' }}>Significant</div>
        </div>
      )}
      {c.e7 && (
        <div style={{ position: 'absolute', left: c.e7[0] - l + W - 10, top: c.e7[1] - t + TOP - 5, width: 20, textAlign: 'center', fontFamily: DJ, fontSize: 7.5, lineHeight: '10px', color: '#333' }}>1e7</div>
      )}
    </div>
  );
}

export default function App() {
  return (
    <div style={{ position: 'absolute', left: 0, top: 0, width: 1444, height: 1026, background: '#fff', overflow: 'hidden' }}>
      {titles.map(([a, s, x]) => (
        <div key={a + s} style={{ position: 'absolute', left: x - 150, width: 300, top: 8, textAlign: 'center', fontFamily: '"Liberation Sans", Arial, sans-serif', fontWeight: 700, fontSize: 29, lineHeight: '34px', color: '#000' }}>
          <i>{a}</i>{s}
        </div>
      ))}
      {rowLabels.map(([s, y], i) => (
        <div key={i} style={{ position: 'absolute', left: 0, width: 140, top: y - 16, textAlign: 'center', fontFamily: '"Liberation Sans", Arial, sans-serif', fontWeight: 700, fontSize: 27, lineHeight: '32px', color: '#000' }}>{s}</div>
      ))}
      {panels.map((c, i) => <Panel key={i} c={c} />)}
    </div>
  );
}
